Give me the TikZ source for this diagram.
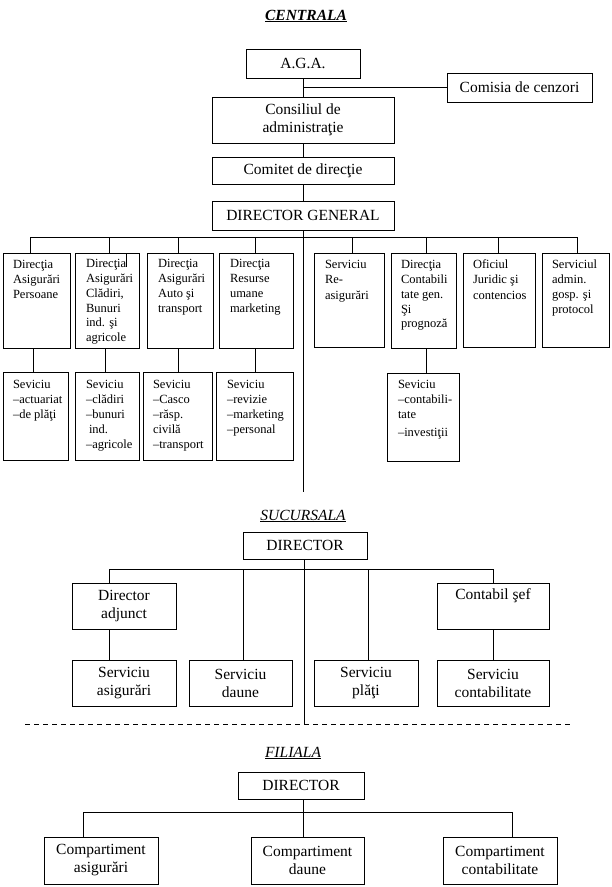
\documentclass[tikz,border=0pt]{standalone}
\usepackage{fontspec}
\setmainfont{Liberation Serif}
\newcommand\cbox[6]{\node[box,minimum width={#4-#2},minimum height={#5-#3}] (#1) at (#2,#3) {#6};}
\begin{document}
\begin{tikzpicture}[x=1pt,y=-1pt,
  every node/.style={inner sep=0pt, outer sep=0pt},
  every path/.style={line width=0.9pt},
  box/.style={draw, line width=0.9pt, anchor=north west, font=\fontsize{15.5}{18}\selectfont, align=center},
  small/.style={font=\fontsize{12.5}{14.7}\selectfont, align=left, anchor=north west},
  ttl/.style={font=\fontsize{15.5}{18}\selectfont\itshape},
  dashline/.style={dash pattern=on 5pt off 4pt}
]
\useasboundingbox (0,0) rectangle (611,887);

% ---------------- CENTRALA ----------------
\node[ttl,font=\fontsize{15.5}{18}\selectfont\bfseries\itshape] (tC) at (306,16) {\underline{CENTRALA}};

\cbox{aga}{246}{49}{360}{78}{A.G.A.}
\cbox{com}{447}{73}{592}{102}{Comisia de cenzori}
\cbox{cons}{212}{97}{394}{143}{Consiliul de\\administraţie}
\cbox{comt}{212}{157}{394}{184}{Comitet de direcţie}
\cbox{dg}{212}{201}{394}{230}{DIRECTOR GENERAL}

\coordinate (j1) at (303,87);
\coordinate (trunk1) at (303,492);
\draw (aga.south) -- (cons.north);
\draw (j1) -- (j1 -| com.west);
\draw (cons.south) -- (comt.north);
\draw (comt.south) -- (dg.north);
\draw (dg.south) -- (trunk1);

\cbox{b1}{3}{253}{70}{348}{}
\cbox{b2}{75}{253}{139}{348}{}
\cbox{b3}{147}{253}{213}{348}{}
\cbox{b4}{219}{253}{293}{348}{}
\cbox{b5}{314}{253}{384}{347}{}
\cbox{b6}{391}{253}{456}{348}{}
\cbox{b7}{463}{253}{535}{347}{}
\cbox{b8}{542}{253}{609}{347}{}

\node[small] (tb1) at (13,258.7) {\strut Direcţia\\Asigurări\\[0.3pt]Persoane};
\node[small] (tb2) at (86,257.7) {\strut Direcţia\\Asigurări\\Clădiri,\\Bunuri\\ind. şi\\agricole};
\node[small] (tb3) at (158,257.7) {\strut Direcţia\\Asigurări\\Auto şi\\transport};
\node[small] (tb4) at (230,257.7) {\strut Direcţia\\Resurse\\umane\\marketing};
\node[small] (tb5) at (325,258.7) {\strut Serviciu\\Re-\\[1pt]asigurări};
\node[small] (tb6) at (401,258.7) {\strut Direcţia\\Contabili\\tate gen.\\Şi\\prognoză};
\node[small] (tb7) at (473,258.7) {\strut Oficiul\\Juridic şi\\[1pt]contencios};
\node[small] (tb8) at (552,258.7) {\strut Serviciul\\admin.\\gosp. şi\\protocol};

\coordinate (d1) at (30,237);
\coordinate (d2) at (109,237);
\coordinate (d3) at (178,237);
\coordinate (d4) at (255,237);
\coordinate (d5) at (352,237);
\coordinate (d6) at (426,237);
\coordinate (d7) at (498,237);
\coordinate (d8) at (577,237);
\draw (d1) -- (d8);
\draw (d1) -- (d1 |- b1.north);
\draw (d2) -- (d2 |- b2.north);
\draw (d3) -- (d3 |- b3.north);
\draw (d4) -- (d4 |- b4.north);
\draw (d5) -- (d5 |- b5.north);
\draw (d6) -- (d6 |- b6.north);
\draw (d7) -- (d7 |- b7.north);
\draw (d8) -- (d8 |- b8.north);
\coordinate (st) at (126,253);
\draw (st) -- ++(0,14);

\cbox{s1}{3}{372}{68}{460}{}
\cbox{s2}{75}{372}{139}{460}{}
\cbox{s3}{143}{372}{212}{460}{}
\cbox{s4}{216}{372}{293}{460}{}
\cbox{s6}{387}{373}{459}{461}{}

\node[small] (ts1) at (13,378.7) {\strut Seviciu\\–actuariat\\[0.5pt]–de plăţi};
\node[small] (ts2) at (86,378.7) {\strut Seviciu\\–clădiri\\–bunuri\\\hspace*{3pt}ind.\\[1pt]–agricole};
\node[small] (ts3) at (153,378.7) {\strut Seviciu\\–Casco\\–răsp.\\civilă\\[1pt]–transport};
\node[small] (ts4) at (227,378.7) {\strut Seviciu\\–revizie\\–marketing\\–personal};
\node[small] (ts6) at (398,378.7) {\strut Seviciu\\–contabili-\\tate\\[3pt]–investiţii};

\coordinate (v1) at (33,360);
\coordinate (v2) at (105,360);
\coordinate (v3) at (178,360);
\coordinate (v4) at (255,360);
\coordinate (v6) at (426,360);
\draw (v1 |- b1.south) -- (v1 |- s1.north);
\draw (v2 |- b2.south) -- (v2 |- s2.north);
\draw (v3 |- b3.south) -- (v3 |- s3.north);
\draw (v4 |- b4.south) -- (v4 |- s4.north);
\draw (v6 |- b6.south) -- (v6 |- s6.north);

% ---------------- SUCURSALA ----------------
\node[ttl] (tS) at (303,516) {\underline{SUCURSALA}};
\cbox{ds}{243}{532}{367}{559}{DIRECTOR}
\cbox{da}{72}{583}{176}{629}{Director\\adjunct}
\cbox{cs}{437}{583}{549}{629}{Contabil şef\\[6pt]}
\cbox{sa}{72}{660}{176}{706}{Serviciu\\asigurări}
\cbox{sd}{189}{660}{292}{706}{Serviciu\\daune}
\cbox{sp}{314}{660}{418}{706}{Serviciu\\plăţi}
\cbox{sc}{437}{660}{549}{706}{Serviciu\\contabilitate}

\coordinate (t2) at (304,724);
\draw (t2 |- ds.south) -- (t2);
\coordinate (sb1) at (109,569);
\coordinate (sb2) at (243,569);
\coordinate (sb3) at (368,569);
\coordinate (sb4) at (493,569);
\draw (sb1) -- (sb4);
\draw (sb1) -- (sb1 |- da.north);
\draw (sb2) -- (sb2 |- sd.north);
\draw (sb3) -- (sb3 |- sp.north);
\draw (sb4) -- (sb4 |- cs.north);
\draw (sb1 |- da.south) -- (sb1 |- sa.north);
\draw (cs.south) -- (sc.north);

\coordinate (dl) at (25,724);
\coordinate (dr) at (572,724);
\draw[dashline] (dl) -- (dr);

% ---------------- FILIALA ----------------
\node[ttl] (tF) at (293,753) {\underline{FILIALA}};
\cbox{df}{238}{772}{364}{799}{DIRECTOR}
\cbox{c1}{44}{837}{158}{884}{Compartiment\\asigurări}
\cbox{c2}{251}{837}{364}{884}{Compartiment\\daune}
\cbox{c3}{443}{837}{557}{884}{Compartiment\\contabilitate}

\coordinate (fb1) at (83,812);
\coordinate (fb2) at (303,812);
\coordinate (fb3) at (512,812);
\draw (fb1) -- (fb3);
\draw (fb2 |- df.south) -- (fb2 |- c2.north);
\draw (fb1) -- (fb1 |- c1.north);
\draw (fb3) -- (fb3 |- c3.north);
\end{tikzpicture}
\end{document}
